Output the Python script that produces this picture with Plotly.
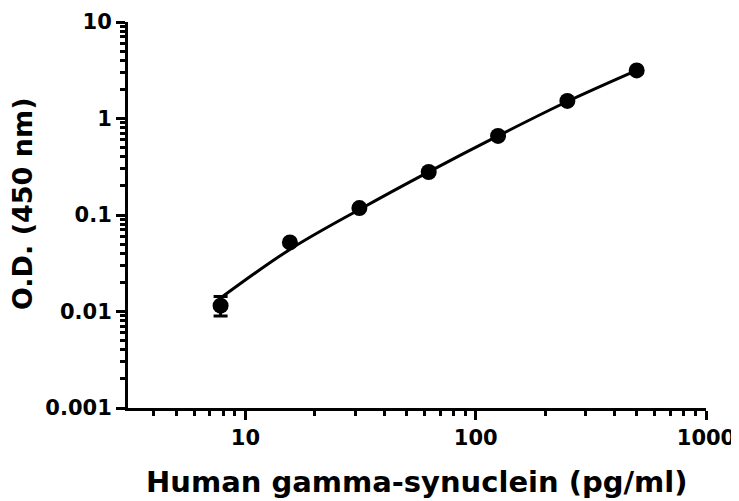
import plotly.graph_objects as go

conc = [7.8, 15.6, 31.25, 62.5, 125, 250, 500]
od = [0.0115, 0.052, 0.118, 0.279, 0.66, 1.52, 3.15]
err_plus = [0.0028, 0, 0, 0, 0, 0, 0]
err_minus = [0.0025, 0, 0, 0, 0, 0, 0]

# fitted curve
curve_x = [7.8, 15.6, 31.25, 62.5, 125, 250, 500]
curve_y = [0.0138, 0.044, 0.114, 0.28, 0.66, 1.5, 3.15]

y_tickvals = [0.001, 0.01, 0.1, 1, 10]
y_ticktext = ["0.001", "0.01", "0.1", "1", "10"]
x_tickvals = [10, 100, 1000]
x_ticktext = ["10", "100", "1000"]

FONT = "DejaVu Sans"

fig = go.Figure()
fig.add_trace(go.Scatter(
    x=curve_x, y=curve_y, mode="lines",
    line=dict(color="black", width=3, shape="spline", smoothing=1.0),
    hoverinfo="skip", showlegend=False))
fig.add_trace(go.Scatter(
    x=conc, y=od, mode="markers",
    marker=dict(color="black", size=16),
    error_y=dict(type="data", symmetric=False, array=err_plus, arrayminus=err_minus,
                 color="black", thickness=3, width=7),
    showlegend=False))

axis_common = dict(
    showline=True, linecolor="black", linewidth=3,
    ticks="outside", ticklen=9, tickwidth=3, tickcolor="black",
    showgrid=False, zeroline=False, automargin=False,
    tickfont=dict(family=FONT, size=21, color="black", weight="bold"),
)

fig.update_xaxes(type="log", range=[0.49, 3.0],
                 tickvals=x_tickvals, ticktext=x_ticktext,
                 minor=dict(ticks="outside", ticklen=5, tickwidth=3, tickcolor="black",
                            tickvals=[4,5,6,7,8,9,20,30,40,50,60,70,80,90,200,300,400,500,600,700,800,900]),
                 **axis_common)
fig.update_yaxes(type="log", range=[-3, 1],
                 tickvals=y_tickvals, ticktext=y_ticktext,
                 minor=dict(ticks="outside", ticklen=5, tickwidth=3, tickcolor="black",
                            tickvals=[m * 10**e for e in range(-3, 1) for m in range(2, 10)]),
                 **axis_common)

fig.add_annotation(text="Human gamma-synuclein (pg/ml)", xref="paper", yref="paper",
                   x=0.5, y=0, xanchor="center", yanchor="middle", yshift=-74, showarrow=False,
                   font=dict(family=FONT, size=29, color="black", weight="bold"))
fig.add_annotation(text="O.D. (450 nm)", xref="paper", yref="paper",
                   x=0, y=0.5, xanchor="center", yanchor="middle", xshift=-106, yshift=11,
                   textangle=-90, showarrow=False,
                   font=dict(family=FONT, size=27, color="black", weight="bold"))

fig.update_layout(
    width=731, height=493,
    margin=dict(l=120, r=33, t=14, b=93),
    plot_bgcolor="white", paper_bgcolor="white",
)

fig.write_html("out.html")
